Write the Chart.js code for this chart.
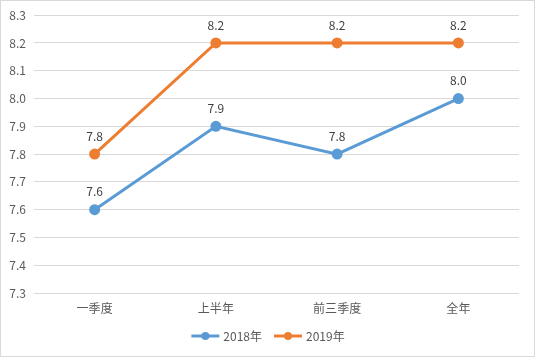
<!DOCTYPE html>
<html><head><meta charset="utf-8">
<script src="https://cdn.jsdelivr.net/npm/chart.js@4/dist/chart.umd.min.js"></script>
<style>html,body{margin:0;padding:0;background:#fff}#wrap{width:535px;height:357px;position:relative}</style>
</head><body><div id="wrap"><canvas id="c" width="535" height="357"></canvas></div>
<script>
const categories = ['一季度', '上半年', '前三季度', '全年'];
const series2018 = [7.6, 7.9, 7.8, 8.0];
const series2019 = [7.8, 8.2, 8.2, 8.2];
const seriesNames = ['2018年', '2019年'];
const yMin = 7.3, yMax = 8.3, yStep = 0.1;

const FONT = '"Noto Sans CJK SC", "Microsoft YaHei", sans-serif';
const colors = ['#5B9BD5', '#ED7D31'];

const extras = {
  id: 'extras',
  afterDatasetsDraw(chart) {
    const ctx = chart.ctx;
    ctx.save();
    ctx.font = '12px ' + FONT;
    ctx.fillStyle = '#404040';
    ctx.textAlign = 'center';
    ctx.textBaseline = 'middle';
    chart.data.datasets.forEach((ds, i) => {
      const meta = chart.getDatasetMeta(i);
      meta.data.forEach((pt, j) => {
        ctx.fillText(ds.data[j].toFixed(1), pt.x, pt.y - 18);
      });
    });
    // legend
    const items = chart.data.datasets.map((ds, i) => ({label: ds.label, color: colors[i]}));
    const lineW = 28, gap = 4, itemGap = 12;
    const widths = items.map(it => lineW + gap + ctx.measureText(it.label).width);
    const total = widths.reduce((a, b) => a + b, 0) + itemGap * (items.length - 1);
    let x = 268 - total / 2;
    const y = 336;
    items.forEach((it, i) => {
      ctx.strokeStyle = it.color;
      ctx.lineWidth = 3;
      ctx.beginPath(); ctx.moveTo(x, y); ctx.lineTo(x + lineW, y); ctx.stroke();
      ctx.fillStyle = it.color;
      ctx.beginPath(); ctx.arc(x + lineW / 2, y, 4, 0, Math.PI * 2); ctx.fill();
      ctx.fillStyle = '#595959';
      ctx.textAlign = 'left';
      ctx.fillText(it.label, x + lineW + gap, y);
      x += widths[i] + itemGap;
    });
    // border
    ctx.strokeStyle = '#d9d9d9';
    ctx.lineWidth = 1;
    ctx.strokeRect(0.5, 0.5, 534, 356);
    ctx.restore();
  }
};

new Chart(document.getElementById('c'), {
  type: 'line',
  data: {
    labels: categories,
    datasets: [
      {label: seriesNames[0], data: series2018, borderColor: colors[0], backgroundColor: colors[0], borderWidth: 3, pointRadius: 4, pointHoverRadius: 4, tension: 0},
      {label: seriesNames[1], data: series2019, borderColor: colors[1], backgroundColor: colors[1], borderWidth: 3, pointRadius: 4, pointHoverRadius: 4, tension: 0}
    ]
  },
  options: {
    responsive: false,
    animation: false,
    devicePixelRatio: 1,
    layout: {padding: {left: 0, right: 16, top: 15, bottom: 0}},
    plugins: {legend: {display: false}, tooltip: {enabled: false}},
    scales: {
      x: {
        offset: true,
        grid: {display: false, drawTicks: false},
        border: {display: false},
        ticks: {color: '#595959', font: {family: FONT, size: 12}, padding: 8},
        afterFit(s) { s.height = 64; }
      },
      y: {
        min: yMin, max: yMax,
        grid: {color: '#d9d9d9', lineWidth: 1, drawTicks: false},
        border: {display: false},
        ticks: {stepSize: yStep, color: '#595959', font: {family: FONT, size: 12}, padding: 8,
          callback: v => Number(v).toFixed(1)},
        afterFit(s) { s.width = 34; }
      }
    }
  },
  plugins: [extras]
});
</script></body></html>
